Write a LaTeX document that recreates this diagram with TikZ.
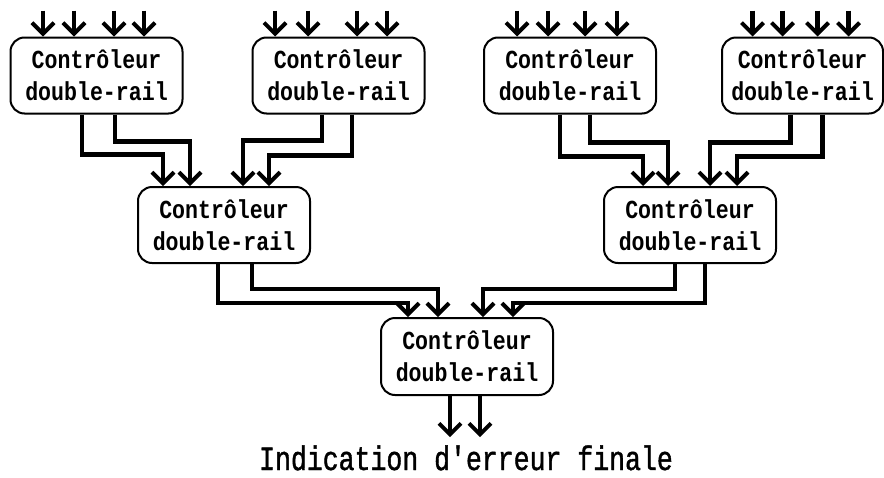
\documentclass[tikz,border=0pt]{standalone}
\usepackage{fontspec}
\newfontfamily\boxfont{Liberation Mono}[FakeStretch=0.83]
\newfontfamily\labelfont{Liberation Mono}[FakeStretch=0.78, FakeBold=1.2]
\usetikzlibrary{arrows.meta}

\begin{document}
\begin{tikzpicture}[x=1pt, y=1pt,
  ctrl/.style={draw, line width=2pt, rounded corners=14pt, minimum width=172pt,
    minimum height=76pt, inner sep=0pt, align=center,
    font=\boxfont\bfseries\fontsize{26}{32}\selectfont},
  wire/.style={line width=4.5pt, -{Straight Barb[length=11pt, width=22pt, line width=4pt]}}]

\useasboundingbox (0,0) rectangle (884,-477);

\node[ctrl] (c1) at (96.5,-75.5) {Contrôleur\\double-rail};
\node[ctrl] (c2) at (338.5,-75.5) {Contrôleur\\double-rail};
\node[ctrl] (c3) at (570,-75.5) {Contrôleur\\double-rail};
\node[ctrl, minimum width=161pt] (c4) at (802.5,-75.5) {Contrôleur\\double-rail};
\node[ctrl] (m1) at (224,-225) {Contrôleur\\double-rail};
\node[ctrl] (m2) at (690,-225) {Contrôleur\\double-rail};
\node[ctrl, minimum height=77pt] (f) at (467,-356.5) {Contrôleur\\double-rail};
\node[font=\labelfont\fontsize{34}{36}\selectfont, anchor=base, inner sep=0pt] (lbl) at (466,-470) {Indication d'erreur finale};

% entrees
\foreach \n/\o in {c1/-53.5, c1/-22.5, c1/17.5, c1/47.5, c2/-63.5, c2/-30.5, c2/18.5, c2/48.5,
                   c3/-53, c3/-22, c3/15, c3/47, c4/-50, c4/-20, c4/15, c4/46}
    \draw[wire] ([xshift=\o pt, yshift=26pt]\n.north) -- ([xshift=\o pt]\n.north);

\foreach \s/\a/\d/\t/\b in {c1/-14.5/40/m1/-61, c1/18.5/27/m1/-34, c2/-16.5/26/m1/19, c2/13.5/41/m1/45,
                            c3/-10/42/m2/-47, c3/20/28/m2/-22, c4/-12/28/m2/20, c4/20/42/m2/47,
                            m1/-6/39/f/-59, m1/28/25/f/-29, m2/-15/25/f/16, m2/15/39/f/46}
    \draw[wire] ([xshift=\a pt]\s.south) -- ++(0,-\d) -| ([xshift=\b pt]\t.north);

% sortie
\foreach \o in {-17, 13}
    \draw[wire, shorten >=8pt] ([xshift=\o pt]f.south) -- ([xshift=\o pt]f.south |- lbl.north);
%
\end{tikzpicture}
\end{document}
